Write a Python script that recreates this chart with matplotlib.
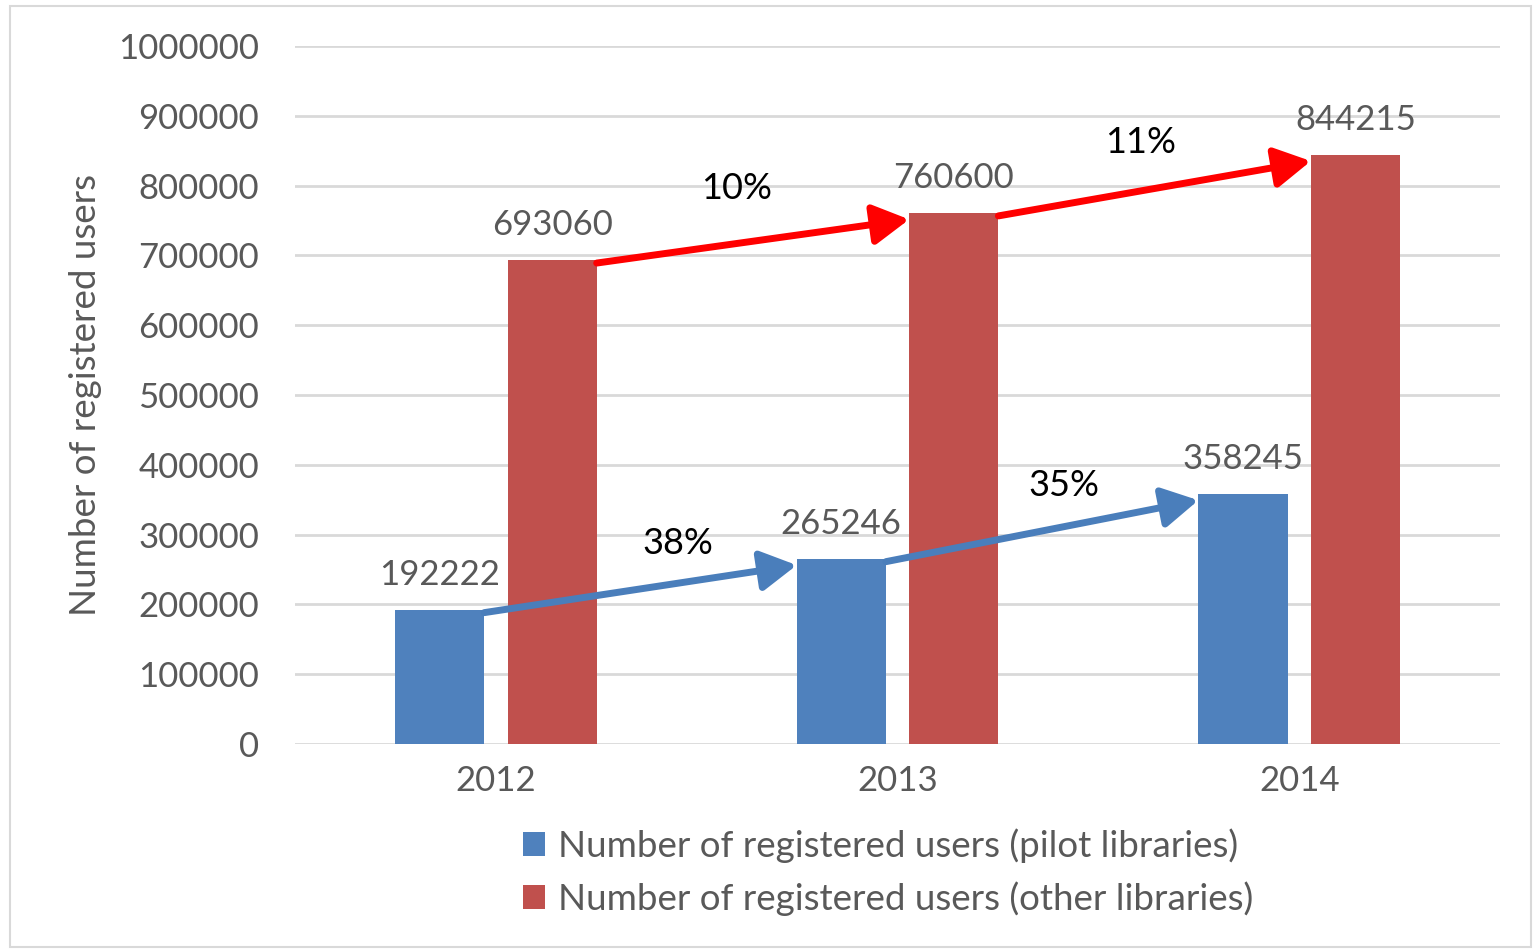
import matplotlib.pyplot as plt
from matplotlib.patches import Rectangle
import numpy as np

plt.rcParams['font.family'] = ['Lato', 'DejaVu Sans']

years = ['2012', '2013', '2014']
pilot = [192222, 265246, 358245]
other = [693060, 760600, 844215]
series_names = ['Number of registered users (pilot libraries)',
                'Number of registered users (other libraries)']

blue = '#4F81BD'
red = '#C0504D'
grey = '#595959'

fig = plt.figure(figsize=(15.39, 9.49), dpi=100)
fig.patches.append(Rectangle((0.0065, 0.002), 0.988, 0.992, transform=fig.transFigure,
                             fill=False, edgecolor='#D9D9D9', lw=1.5))
ax = fig.add_axes([0.1917, 0.216, 0.783, 0.7355])

x = np.arange(len(years))
w = 0.222
off = 0.14
b1 = ax.bar(x - off, pilot, w, color=blue, zorder=2, label=series_names[0])
b2 = ax.bar(x + off, other, w, color=red, zorder=2, label=series_names[1])

for xs, vals in [(x - off, pilot), (x + off, other)]:
    for xi, v in zip(xs, vals):
        ax.annotate(str(v), (xi, v), xytext=(0, 18), textcoords='offset points',
                    ha='center', va='baseline', fontsize=25, color=grey, zorder=4)

# growth arrows between consecutive bars
pct_offsets = {'other': [(-12, 38), (-10, 33)], 'pilot': [(27, 33), (16, 33)]}
for xs, vals, col, key in [(x + off, other, '#FF0000', 'other'),
                           (x - off, pilot, '#4A7EBB', 'pilot')]:
    for i in range(len(vals) - 1):
        start = (xs[i] + w / 2, vals[i] - 4000)
        end = (xs[i + 1] - w / 2, vals[i + 1] - 9000)
        ax.annotate('', xy=end, xytext=start,
                    arrowprops=dict(arrowstyle='-|>,head_length=0.75,head_width=0.42',
                                    color=col, lw=5, mutation_scale=29,
                                    shrinkA=0, shrinkB=0), zorder=5)
        pct = round((vals[i + 1] / vals[i] - 1) * 100)
        mid = ((start[0] + end[0]) / 2, (start[1] + end[1]) / 2)
        ax.annotate(f'{pct}%', mid, xytext=pct_offsets[key][i], textcoords='offset points',
                    ha='center', va='center', fontsize=26, color='black', zorder=6)

ax.set_xlim(-0.5, 2.5)
ax.set_ylim(0, 1000000)
ax.set_yticks(np.arange(0, 1000001, 100000))
ax.set_yticklabels([str(v) for v in range(0, 1000001, 100000)])
ax.set_xticks(x)
ax.set_xticklabels(years)
ax.tick_params(axis='both', length=0, labelsize=25, labelcolor=grey)
ax.tick_params(axis='y', pad=26)
ax.tick_params(axis='x', pad=15)
ax.grid(axis='y', color='#D9D9D9', lw=2, zorder=0)
for s in ax.spines.values():
    s.set_visible(False)
ax.set_ylabel('Number of registered users', fontsize=26.5, color=grey)
ax.yaxis.set_label_coords(-0.16, 0.5)

fig.legend(handles=[b1, b2], loc='upper center', bbox_to_anchor=(0.577, 0.162),
           ncol=1, frameon=False, fontsize=26.5, labelcolor=grey,
           handlelength=0.6, handleheight=0.6, handletextpad=0.35, labelspacing=0.5)

fig.savefig('out.png', dpi=100)
